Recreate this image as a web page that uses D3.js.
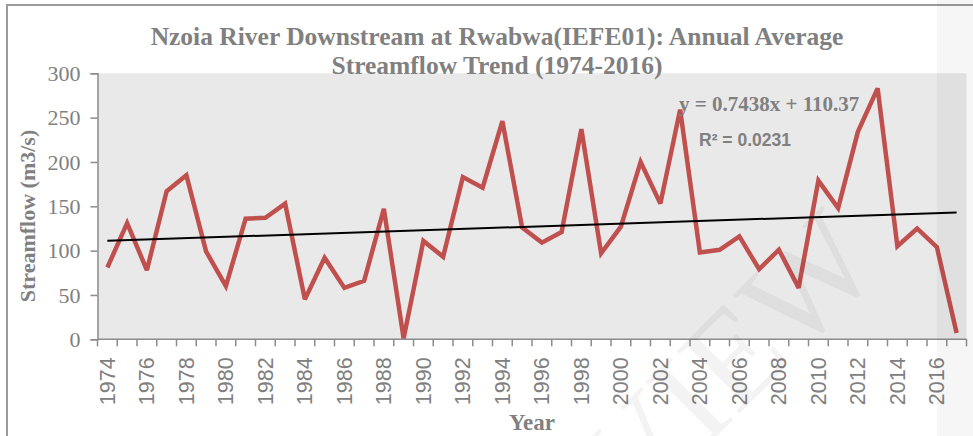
<!DOCTYPE html>
<html>
<head>
<meta charset="utf-8">
<script src="https://cdn.jsdelivr.net/npm/d3@7/dist/d3.min.js"></script>
<style>
  body { margin: 0; background: #fff; }
  svg { display: block; }
  .serif { font-family: "Liberation Serif", "Times New Roman", serif; }
</style>
</head>
<body>
<svg width="973" height="436"></svg>
<script>
// annual average streamflow (m3/s)
var years = d3.range(1974, 2018);
var flows = [81, 131, 78, 167, 185, 99, 60, 136, 137, 153,
             45, 92, 58, 66, 147, 1, 111, 93, 183, 171,
             246, 126, 109, 121, 237, 97, 127, 200, 153, 259,
             98, 101, 116, 79, 101, 58, 179, 148, 234, 283,
             105, 125, 104, 7];
var yTicks = [0, 50, 100, 150, 200, 250, 300];
var trendSlope = 0.7438, trendIntercept = 110.37;

var svg = d3.select("svg"),
    grey = "#808080",
    margin = {top: 73.3, right: 6.5, bottom: 96.7, left: 97.5},
    width = +svg.attr("width") - margin.left - margin.right,
    height = +svg.attr("height") - margin.top - margin.bottom;

// frame lines around the figure
svg.append("line").attr("x1", 6).attr("x2", 973).attr("y1", 5).attr("y2", 5)
  .attr("stroke", "#9a9a9a").attr("stroke-width", 2);
svg.append("line").attr("x1", 7).attr("x2", 7).attr("y1", 5).attr("y2", 436)
  .attr("stroke", "#9a9a9a").attr("stroke-width", 2);

var g = svg.append("g").attr("transform", "translate(" + margin.left + "," + margin.top + ")");

var x = d3.scaleBand().domain(years).range([0, width]).padding(0);
var y = d3.scaleLinear().domain([0, 300]).range([height, 0]);

g.append("rect").attr("width", width).attr("height", height).attr("fill", "#e9e9e9");

// watermark
svg.append("text").attr("class", "serif")
  .attr("transform", "translate(885,268) rotate(-45)")
  .attr("text-anchor", "end")
  .attr("font-size", 135)
  .attr("fill", "#000").attr("opacity", 0.045)
  .text("REVIEW");

// y axis
var yAxis = g.append("g")
  .call(d3.axisLeft(y).tickValues(yTicks).tickSize(7).tickPadding(10));
yAxis.selectAll("line, path").attr("stroke", "#8c8c8c").attr("stroke-width", 1.5);
yAxis.selectAll("text").attr("class", "serif").attr("font-size", 22).attr("fill", grey);

// x axis: ticks at every band edge, labels every other year
var xAxis = g.append("g").attr("transform", "translate(0," + height + ")");
xAxis.append("line").attr("x1", 0).attr("x2", width)
  .attr("stroke", "#8c8c8c").attr("stroke-width", 1.5);
xAxis.selectAll(".edge").data(years.concat([2018])).enter().append("line")
  .attr("class", "edge")
  .attr("x1", function (d) { return d < 2018 ? x(d) : width; })
  .attr("x2", function (d) { return d < 2018 ? x(d) : width; })
  .attr("y1", 0).attr("y2", 7)
  .attr("stroke", "#8c8c8c").attr("stroke-width", 1.5);
xAxis.selectAll(".lbl").data(years.filter(function (d) { return (d - 1974) % 2 === 0; }))
  .enter().append("text")
  .attr("class", "lbl")
  .attr("transform", function (d) {
    return "translate(" + (x(d) + x.bandwidth() / 2 + 7.5) + ",18) rotate(-90)";
  })
  .attr("text-anchor", "end")
  .attr("font-family", "'Liberation Sans', Arial, sans-serif")
  .attr("font-size", 21.5)
  .attr("fill", grey)
  .text(function (d) { return d; });

// streamflow line
var line = d3.line()
  .x(function (d, i) { return x(years[i]) + x.bandwidth() / 2; })
  .y(function (d) { return y(d); });
g.append("path").datum(flows)
  .attr("fill", "none").attr("stroke", "#c0504d").attr("stroke-width", 4.5)
  .attr("stroke-linejoin", "miter").attr("stroke-miterlimit", 3)
  .attr("d", line);

// linear trend
var trend = [1, years.length].map(function (n) {
  return {yr: years[n - 1], v: trendSlope * n + trendIntercept};
});
g.append("path").datum(trend)
  .attr("fill", "none").attr("stroke", "#000").attr("stroke-width", 2)
  .attr("d", d3.line()
    .x(function (d) { return x(d.yr) + x.bandwidth() / 2; })
    .y(function (d) { return y(d.v); }));

// title
var title = svg.append("text").attr("class", "serif")
  .attr("text-anchor", "middle").attr("font-size", 25.5).attr("font-weight", "bold")
  .attr("fill", grey);
title.append("tspan").attr("x", 497).attr("y", 45)
  .text("Nzoia River Downstream at Rwabwa(IEFE01): Annual Average");
title.append("tspan").attr("x", 497).attr("y", 74)
  .text("Streamflow Trend (1974-2016)");

// axis titles
svg.append("text").attr("class", "serif")
  .attr("transform", "translate(35,216) rotate(-90)")
  .attr("text-anchor", "middle").attr("font-size", 22).attr("font-weight", "bold")
  .attr("fill", grey).text("Streamflow (m3/s)");
svg.append("text").attr("class", "serif")
  .attr("x", 532).attr("y", 430)
  .attr("text-anchor", "middle").attr("font-size", 23).attr("font-weight", "bold")
  .attr("fill", grey).text("Year");

// trendline equation
svg.append("text").attr("class", "serif")
  .attr("x", 679).attr("y", 111)
  .attr("font-size", 21).attr("font-weight", "bold").attr("fill", grey)
  .text("y = " + trendSlope + "x + " + trendIntercept);
svg.append("text")
  .attr("x", 699).attr("y", 146)
  .attr("font-family", "'Liberation Sans', Arial, sans-serif")
  .attr("font-size", 17.5).attr("font-weight", "bold").attr("fill", grey)
  .text("R\u00b2 = 0.0231");

// pale strip at the right edge of the page
svg.append("rect").attr("x", 937).attr("y", 0).attr("width", 36).attr("height", 436)
  .attr("fill", "#000").attr("opacity", 0.035);
</script>
</body>
</html>
